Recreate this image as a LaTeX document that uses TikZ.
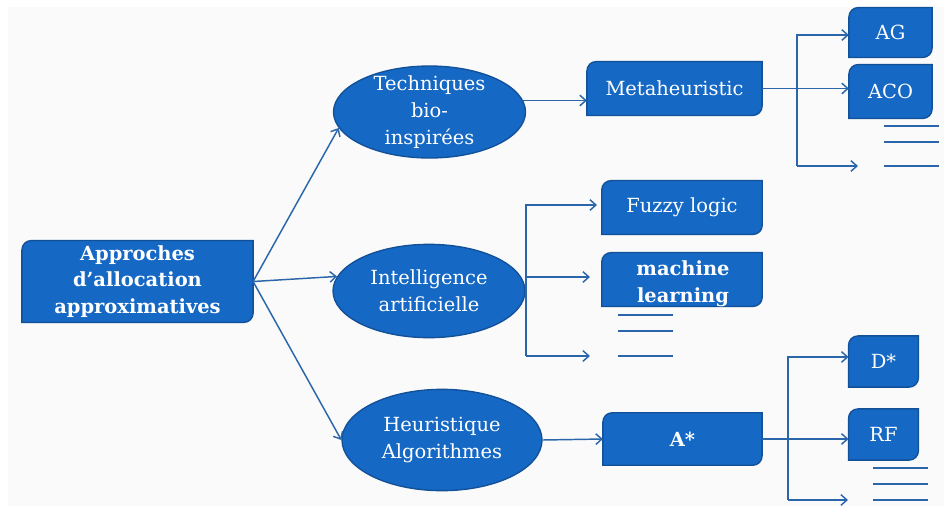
\documentclass[tikz,border=0pt]{standalone}
\usepackage{fontspec}
\setmainfont{DejaVu Serif}
\usetikzlibrary{arrows.meta,shapes.geometric,backgrounds}
\definecolor{boxfill}{RGB}{21,104,196}
\definecolor{boxedge}{RGB}{18,80,152}
\definecolor{wire}{RGB}{44,102,170}
\definecolor{panel}{RGB}{250,250,250}

\begin{document}
\begin{tikzpicture}[x=0.75pt,y=-0.75pt,
  every node/.style={font=\fontsize{14.6}{20}\selectfont, text=white, align=center, inner sep=0pt},
  tile/.style n args={2}{rectangle, minimum width=#1, minimum height=#2},
  ell/.style n args={2}{ellipse, draw=boxedge, fill=boxfill, line width=1pt, minimum width=#1, minimum height=#2},
  heavy/.style={font=\fontsize{14.6}{20}\selectfont\bfseries},
  link/.style={draw=wire, line width=1.1pt, -{Straight Barb[length=4.5pt,width=8pt,line width=1.1pt]}},
  blank/.style={draw=wire, line width=1.3pt},
  tileframe/.style={draw=boxedge, fill=boxfill, line width=1pt}]

\useasboundingbox (0,0) rectangle (946,508);

% first level
\node[tile={173pt}{61pt}, heavy] (root) at (137.5,281.5) {Approches\\d’allocation\\approximatives};
\node[ell={144pt}{69pt}] (e1) at (429.5,112) {};
\node (t1) at (e1.center) {Techniques\\bio-\\inspirées};
\node[ell={144pt}{70pt}] (e2) at (429,291) {};
\node (t2) at (e2.center) {Intelligence\\artificielle};
\node[ell={150pt}{76pt}] (e3) at (442,440) {};
\node (t3) at (e3.center) {Heuristique\\Algorithmes};

% second and third level
\node[tile={131pt}{40pt}] (meta) at (674.5,88.5) {Metaheuristic};
\node[tile={62pt}{37pt}] (ag) at (890.5,32.5) {AG};
\node[tile={62pt}{40pt}] (aco) at (890.5,91.5) {ACO};
\node[tile={120pt}{40pt}] (fuzzy) at (682,207.5) {Fuzzy logic};
\node[tile={120pt}{40pt}] (ml) at (682,279.5) {};
\node[heavy] (mltext) at (683,284) {machine\\learning};
\node[tile={119pt}{39pt}, heavy] (astar) at (682.5,439) {A*};
\node[tile={52pt}{38pt}] (dstar) at (883.5,361.5) {D*};
\node[tile={52pt}{38pt}] (rf) at (883.5,434.5) {RF};

% tiles with two rounded corners (top left, bottom right)
\begin{scope}[on background layer]
  \fill[panel] (8,7) rectangle (944,506);
  \foreach \n in {root,meta,ag,aco,fuzzy,ml,astar,dstar,rf}{
    \draw[tileframe] ([yshift=-7pt]\n.north west)
      .. controls ([yshift=-3.1pt]\n.north west) and ([xshift=3.1pt]\n.north west) .. ([xshift=7pt]\n.north west)
      -- (\n.north east) -- ([yshift=7pt]\n.south east)
      .. controls ([yshift=3.1pt]\n.south east) and ([xshift=-3.1pt]\n.south east) .. ([xshift=-7pt]\n.south east)
      -- (\n.south west) -- cycle;
  }
\end{scope}

% root fan
\draw[link] (root.east) -- (e1.190);
\draw[link] (root.east) -- (e2.171);
\draw[link] (root.east) -- (e3.west);

% bio-inspired branch
\coordinate (mtop) at (797,35);
\coordinate (mbot) at (797,166);
\coordinate (mend) at (858,166);
\draw[link] (e1.7) -- (e1.7 -| meta.west);
\draw[link] (meta.east) -- (meta.east -| aco.west);
\draw[link] (mbot) -- (mtop) -- (mtop -| ag.west);
\draw[link] (mbot) -- (mend);
\draw[blank] (884,126) -- (939,126);
\draw[blank] (884,142) -- (939,142);
\draw[blank] (884,166) -- (939,166);

% artificial intelligence branch
\coordinate (itop) at (526,205);
\coordinate (imid) at (526,277);
\coordinate (ibot) at (526,356);
\coordinate (ifuzzy) at (597,205);
\coordinate (iml) at (590,277);
\coordinate (iend) at (590,356);
\draw[link] (ibot) -- (itop) -- (ifuzzy);
\draw[link] (imid) -- (iml);
\draw[link] (ibot) -- (iend);
\draw[blank] (618,315) -- (673,315);
\draw[blank] (618,331) -- (673,331);
\draw[blank] (618,356) -- (673,356);

% heuristic branch
\coordinate (htop) at (788,357);
\coordinate (hbot) at (788,500);
\coordinate (hend) at (848,500);
\draw[link] (e3.east) -- (astar.west);
\draw[link] (astar.east) -- (astar.east -| rf.west);
\draw[link] (hbot) -- (htop) -- (htop -| dstar.west);
\draw[link] (hbot) -- (hend);
\draw[blank] (873,468) -- (928,468);
\draw[blank] (873,484) -- (928,484);
\draw[blank] (873,500) -- (928,500);

\end{tikzpicture}
\end{document}
